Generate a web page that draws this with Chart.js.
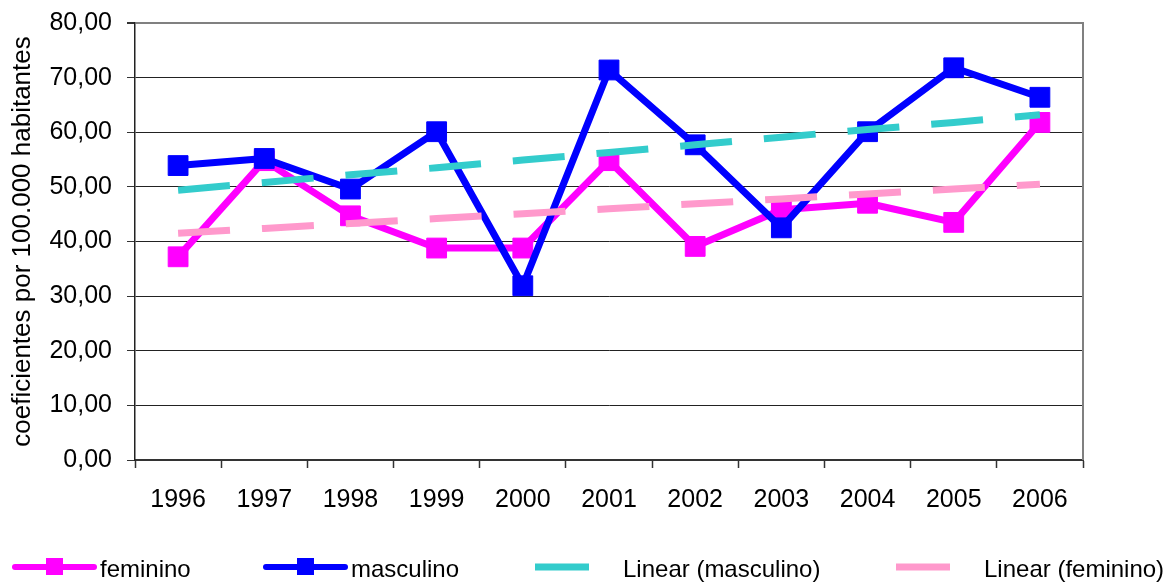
<!DOCTYPE html>
<html>
<head>
<meta charset="utf-8">
<script src="https://cdn.jsdelivr.net/npm/chart.js@4/dist/chart.umd.min.js"></script>
<style>
  html, body { margin: 0; padding: 0; background: #fff; }
</style>
</head>
<body>
<canvas id="myChart" width="1163" height="584"></canvas>
<script>
var anos = ['1996', '1997', '1998', '1999', '2000', '2001', '2002', '2003', '2004', '2005', '2006'];
var feminino = [37.2, 54.8, 44.7, 38.8, 38.8, 54.8, 39.1, 45.8, 47.0, 43.5, 61.8];
var masculino = [53.9, 55.2, 49.6, 60.1, 31.9, 71.4, 57.7, 42.5, 60.1, 71.8, 66.4];
var linearMasculino = [49.4, 50.8, 52.2, 53.5, 54.9, 56.3, 57.7, 59.1, 60.5, 61.8, 63.2];
var linearFeminino = [41.5, 42.4, 43.3, 44.2, 45.1, 46.0, 46.9, 47.8, 48.7, 49.6, 50.5];
var yTicks = [0, 10, 20, 30, 40, 50, 60, 70, 80];

var fonte = '"Liberation Sans", Arial, sans-serif';

// legenda desenhada em baixo, como no Excel
var legendaPlugin = {
    id: 'legendaBaixo',
    afterDraw: function (chart) {
        var ctx = chart.ctx;
        var y = 567;
        var xs = [12, 263, 535, 896];
        ctx.save();
        chart.data.datasets.forEach(function (ds, i) {
            var x = xs[i];
            ctx.beginPath();
            ctx.strokeStyle = ds.borderColor;
            ctx.lineWidth = ds.borderDash ? 7 : 6;
            ctx.lineCap = ds.borderDash ? 'butt' : 'round';
            ctx.setLineDash(ds.borderDash ? [54, 32] : []);
            ctx.moveTo(ds.borderDash ? x : x + 3, y);
            ctx.lineTo(ds.borderDash ? x + 85 : x + 82, y);
            ctx.stroke();
            ctx.setLineDash([]);
            if (ds.pointRadius > 0) {
                ctx.fillStyle = ds.pointBackgroundColor;
                ctx.fillRect(x + 34, y - 9, 17, 17);
            }
            ctx.fillStyle = '#000';
            ctx.font = '24px ' + fonte;
            ctx.textBaseline = 'alphabetic';
            ctx.fillText(ds.label, x + 88, 577);
        });
        ctx.restore();
    }
};

// borda direita da area do grafico
var bordaPlugin = {
    id: 'bordaDireita',
    beforeDatasetsDraw: function (chart) {
        var a = chart.chartArea;
        var ctx = chart.ctx;
        ctx.save();
        ctx.strokeStyle = '#808080';
        ctx.lineWidth = 2;
        ctx.beginPath();
        ctx.moveTo(a.right, a.top - 1);
        ctx.lineTo(a.right, a.bottom);
        ctx.stroke();
        ctx.restore();
    }
};

var ctx = document.getElementById('myChart');

var chartGraph = new Chart(ctx, {
    type: 'line',
    data: {
        labels: anos,
        datasets: [{
            label: 'feminino',
            data: feminino,
            borderColor: '#FF00FF',
            backgroundColor: '#FF00FF',
            borderWidth: 7,
            pointStyle: 'rect',
            pointRadius: 14,
            pointBorderWidth: 1,
            pointBackgroundColor: '#FF00FF',
            pointBorderColor: '#FF00FF',
            borderJoinStyle: 'round',
            tension: 0,
            order: 2
        }, {
            label: 'masculino',
            data: masculino,
            borderColor: '#0000FF',
            backgroundColor: '#0000FF',
            borderWidth: 7,
            pointStyle: 'rect',
            pointRadius: 14,
            pointBorderWidth: 1,
            pointBackgroundColor: '#0000FF',
            pointBorderColor: '#0000FF',
            borderJoinStyle: 'round',
            tension: 0,
            order: 1
        }, {
            label: 'Linear (masculino)',
            data: linearMasculino,
            borderColor: '#33CCCC',
            backgroundColor: '#33CCCC',
            borderWidth: 7,
            borderDash: [52, 32],
            pointRadius: 0,
            tension: 0,
            order: 0
        }, {
            label: 'Linear (feminino)',
            data: linearFeminino,
            borderColor: '#FF99CC',
            backgroundColor: '#FF99CC',
            borderWidth: 7,
            borderDash: [52, 32],
            pointRadius: 0,
            tension: 0,
            order: 0
        }]
    },
    options: {
        responsive: false,
        animation: false,
        devicePixelRatio: 1,
        layout: {
            padding: { top: 23, right: 80, bottom: 0, left: 0 }
        },
        plugins: {
            legend: { display: false },
            tooltip: { enabled: false }
        },
        scales: {
            x: {
                offset: true,
                grid: {
                    offset: true,
                    drawOnChartArea: false,
                    drawTicks: true,
                    tickLength: 8,
                    tickColor: '#333',
                    tickWidth: 1.5
                },
                border: { display: true, color: '#333', width: 2 },
                ticks: {
                    color: '#000',
                    padding: 17,
                    maxRotation: 0,
                    font: { family: fonte, size: 25 }
                },
                afterFit: function (scale) { scale.height = 124; }
            },
            y: {
                min: 0,
                max: 80,
                afterBuildTicks: function (scale) {
                    scale.ticks = yTicks.map(function (v) { return { value: v }; });
                },
                grid: {
                    color: function (c) { return c.tick && c.tick.value === 80 ? '#808080' : '#222'; },
                    lineWidth: function (c) { return c.tick && c.tick.value === 80 ? 2 : 1; },
                    tickLength: 8,
                    tickColor: '#333'
                },
                border: { display: true, color: '#222', width: 1.5 },
                ticks: {
                    color: '#000',
                    padding: 15,
                    font: { family: fonte, size: 25 },
                    callback: function (v) { return v.toFixed(2).replace('.', ','); }
                },
                title: {
                    display: true,
                    text: 'coeficientes por 100.000 habitantes',
                    color: '#000',
                    font: { family: fonte, size: 26 },
                    padding: { top: 7, bottom: 0 }
                },
                afterFit: function (scale) {
                    scale.width = 135;
                    scale.paddingTop = 0;
                    scale.paddingBottom = 0;
                }
            }
        }
    },
    plugins: [legendaPlugin, bordaPlugin]
});
</script>
</body>
</html>
